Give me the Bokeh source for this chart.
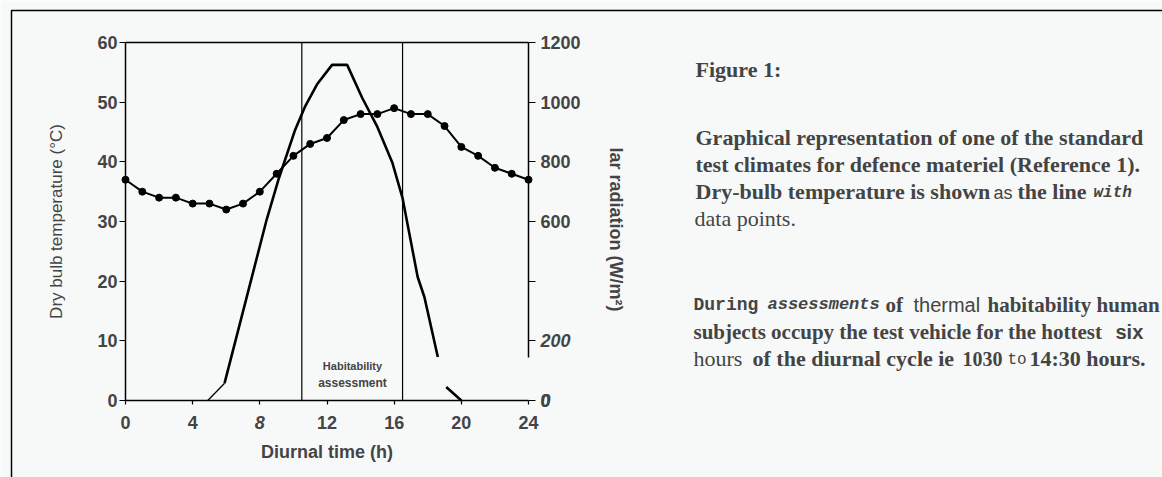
import math
from bokeh.plotting import figure
from bokeh.models import (LinearAxis, Range1d, FixedTicker, Label, BoxAnnotation)
from bokeh.embed import file_html
from bokeh.resources import INLINE

# ---- data ----
hours = list(range(0, 25))
temperature = [37, 35, 34, 34, 33, 33, 32, 33, 35, 38, 41, 43, 44, 47, 48, 48, 49,
               48, 48, 46, 42.5, 41, 39, 38, 37]
rad_time = [4.9, 5.9, 8.4, 9.1, 10.1, 10.7, 11.4, 12.3, 13.2, 14.1, 15.0, 15.9, 16.5,
            17.4, 17.8, 18.6, float("nan"), 19.1, 20.0]
radiation = [0, 58, 605, 739, 907, 986, 1059, 1125, 1125, 1014, 917, 796, 678,
             414, 347, 146, float("nan"), 45, 0]
habitability_window = [10.5, 16.5]
x_ticks = [0, 4, 8, 12, 16, 20, 24]
left_ticks = [0, 10, 20, 30, 40, 50, 60]
right_ticks = [0, 200, 400, 600, 800, 1000, 1200]

BG = "#f7f9f9"
SERIF = "Liberation Serif"
SANS = "Liberation Sans"
MONO = "Liberation Mono"
W, H = 1162, 477

# chart box on the canvas: left 125, right 528, top 42, bottom 400
def dx(px):
    return (px - 125) * 24 / 403

def dy(py):
    return (400 - py) * 60 / 358

p = figure(width=W, height=H, output_backend="svg", toolbar_location=None,
           title=None,
           x_range=Range1d(dx(0), dx(W)), y_range=Range1d(dy(H), dy(0)),
           min_border=0, min_border_left=0, min_border_right=0,
           min_border_top=0, min_border_bottom=0,
           background_fill_color=BG, border_fill_color=BG,
           outline_line_color=None)
p.extra_y_ranges = {"rad": Range1d(dy(H) * 20, dy(0) * 20)}
p.grid.visible = False

TICK_FONT = "18px"

# x axis
xa = p.xaxis[0]
xa.fixed_location = 0
xa.bounds = (0, 24)
xa.ticker = FixedTicker(ticks=x_ticks)
xa.major_label_overrides = {8: ""}
xa.axis_label = "Diurnal time (h)"
xa.axis_label_text_font = SANS
xa.axis_label_text_font_style = "bold"
xa.axis_label_text_font_size = "18px"
xa.axis_label_standoff = 10
xa.major_label_text_font = SANS
xa.major_label_text_font_style = "bold"
xa.major_label_text_font_size = TICK_FONT
xa.major_label_standoff = 11
xa.major_tick_in = 0
xa.major_tick_out = 4
xa.minor_tick_line_color = None
xa.axis_line_width = 1.5
xa.major_tick_line_width = 1.2

# left axis
ya = p.yaxis[0]
ya.fixed_location = 0
ya.bounds = (0, 60)
ya.ticker = FixedTicker(ticks=left_ticks)
ya.axis_label = "Dry bulb temperature (°C)"
ya.axis_label_text_font = SANS
ya.axis_label_text_font_style = "normal"
ya.axis_label_text_font_size = "17px"
ya.axis_label_standoff = 28
ya.major_label_text_font = SANS
ya.major_label_text_font_style = "bold"
ya.major_label_text_font_size = TICK_FONT
ya.major_label_standoff = 2
ya.major_tick_in = 0
ya.major_tick_out = 6
ya.minor_tick_line_color = None
ya.axis_line_width = 1.5

# right axis
ra = LinearAxis(y_range_name="rad", ticker=FixedTicker(ticks=right_ticks),
                bounds=(145, 1200), fixed_location=24)
ra.major_label_overrides = {200: "", 400: ""}
ra.major_label_text_font = SANS
ra.major_label_text_font_style = "bold"
ra.major_label_text_font_size = TICK_FONT
ra.major_label_standoff = 5
ra.major_tick_in = 0
ra.major_tick_out = 7
ra.minor_tick_line_color = None
ra.axis_line_width = 1.5
p.add_layout(ra, "right")

# top frame line
ta = LinearAxis(ticker=FixedTicker(ticks=[]), fixed_location=60, bounds=(0, 24))
ta.axis_line_width = 1.5
ta.minor_tick_line_color = None
ta.major_tick_line_color = None
p.add_layout(ta, "above")

# right axis title (partly cut in the original)
p.add_layout(Label(x=dx(615), y=dy(229), text="lar radiation (W/m²)", text_font=SANS,
                   text_font_style="bold", text_font_size="18px", angle=-math.pi / 2,
                   text_align="center", text_baseline="middle"))

# habitability window
p.segment(x0=habitability_window, y0=0, x1=habitability_window, y1=60,
          line_color="black", line_width=1.2)

# series
p.line(rad_time[:2], radiation[:2], y_range_name="rad", line_color="black",
       line_width=1.3)
p.line(rad_time[1:], radiation[1:], y_range_name="rad", line_color="black",
       line_width=2.6)
p.line(hours, temperature, line_color="black", line_width=2)
p.scatter(hours, temperature, size=7, marker="circle", fill_color="black",
          line_color="black")

# italic tick labels
p.add_layout(Label(x=8, y=0, text="8", text_font=SANS, text_font_style="bold italic",
                   text_font_size=TICK_FONT, text_align="center", text_baseline="top",
                   y_offset=-15))
p.add_layout(Label(x=24, x_offset=12, y=200, y_range_name="rad", text="200",
                   text_font=SANS, text_font_style="bold italic",
                   text_font_size=TICK_FONT, text_align="left", text_baseline="middle"))
p.add_layout(Label(x=24, x_offset=12, y=0, y_range_name="rad", text="0",
                   text_font=SANS, text_font_style="bold italic",
                   text_font_size=TICK_FONT, text_align="left", text_baseline="middle"))

# habitability label
p.add_layout(Label(x=dx(352), y=dy(365), text="Habitability", text_font=SANS,
                   text_font_style="bold", text_font_size="11px", text_align="center",
                   text_baseline="middle"))
p.add_layout(Label(x=dx(352), y=dy(382), text="assessment", text_font=SANS,
                   text_font_style="bold", text_font_size="12px", text_align="center",
                   text_baseline="middle"))

# page border
p.add_layout(BoxAnnotation(left=dx(11), right=dx(W + 20), top=dy(10), bottom=dy(H + 20),
                           fill_alpha=0, line_color="black", line_alpha=1,
                           line_width=1.5))

# caption text
def seg(px, py, text, font=SERIF, style="bold", size="22px"):
    p.add_layout(Label(x=dx(px), y=dy(py), text=text, text_font=font,
                       text_font_style=style, text_font_size=size,
                       text_align="left", text_baseline="middle"))

seg(695, 69, "Figure 1:")
seg(695, 137, "Graphical representation of one of the standard")
seg(695, 164, "test climates for defence materiel (Reference 1).")
seg(695, 191, "Dry-bulb temperature is shown")
seg(993, 192, "as", font=SANS, style="normal", size="18px")
seg(1017, 191, "the line")
seg(1093, 192, "with", font=MONO, style="bold italic", size="16px")
seg(694, 218, "data points.", style="normal")
seg(693, 304, "During", font=MONO, style="bold", size="18px")
seg(767, 304, "assessments", font=MONO, style="bold italic", size="17px")
seg(885, 304, "of", size="21px")
seg(913, 304, "thermal", font=SANS, style="normal", size="20px")
seg(987, 304, "habitability human", size="21px")
seg(693, 331, "subjects occupy the test vehicle for the hottest", size="21px")
seg(1115, 331, "six", font=SANS, style="bold", size="20px")
seg(693, 358, "hours", style="normal")
seg(752, 358, "of the diurnal cycle ie")
seg(962, 358, "1030", size="20px")
seg(1007, 359, "to", font=MONO, style="normal", size="16px")
seg(1029, 358, "14:30 hours.")

open("out.html", "w").write(file_html(p, INLINE))
